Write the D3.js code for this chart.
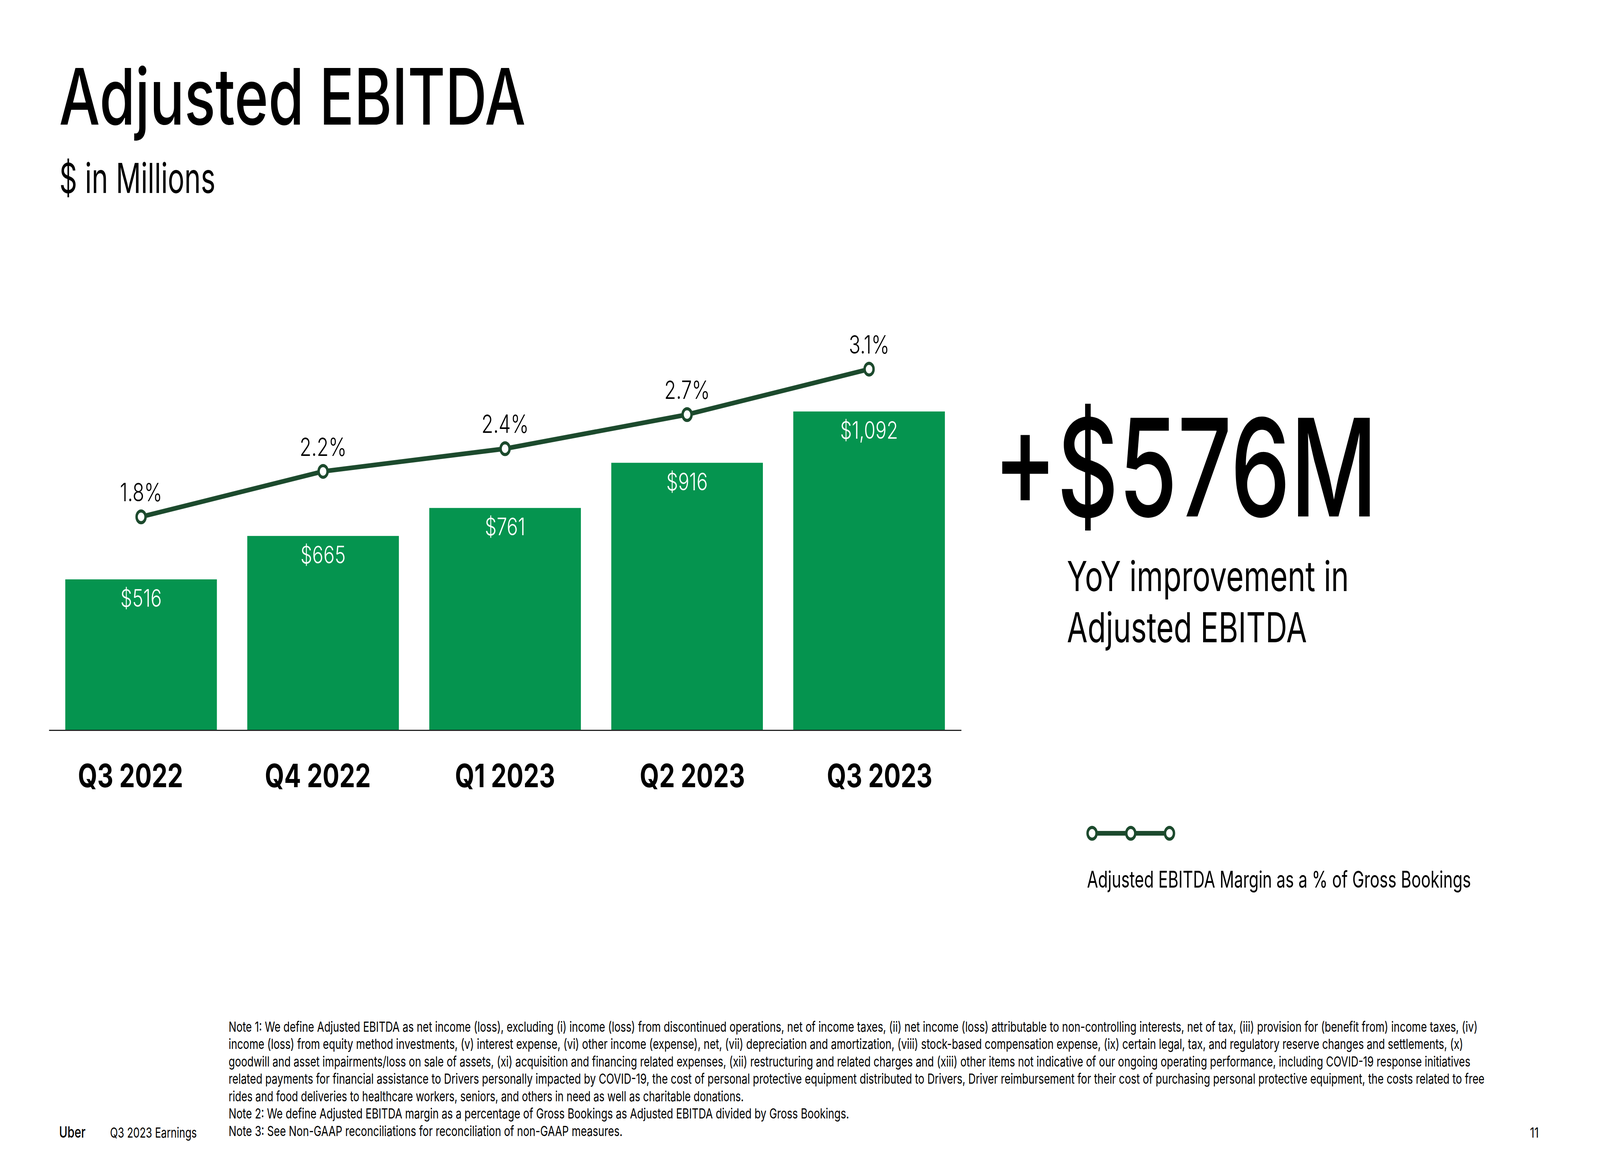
<!DOCTYPE html>
<html>
<head>
<meta charset="utf-8">
<script src="https://cdn.jsdelivr.net/npm/d3@7"></script>
<style>
  html, body { margin: 0; padding: 0; background: #fff; overflow: hidden; width: 100%; height: 100%; }
  svg { display: block; }
  text { font-family: Inter, "Noto Sans", sans-serif; fill: #000; }
</style>
</head>
<body>
<script>
// ---------- data ----------
const categories = ["Q3 2022", "Q4 2022", "Q1 2023", "Q2 2023", "Q3 2023"];
const ebitda = [516, 665, 761, 916, 1092];
const ebitdaLabels = ["$516", "$665", "$761", "$916", "$1,092"];
const margin = [1.8, 2.2, 2.4, 2.7, 3.1];
const marginLabels = ["1.8%", "2.2%", "2.4%", "2.7%", "3.1%"];
const titleText = "Adjusted EBITDA";
const subtitleText = "$ in Millions";
const headlineText = "+$576M";
const headlineSub = ["YoY improvement in", "Adjusted EBITDA"];
const legendText = "Adjusted EBITDA Margin as a % of Gross Bookings";
const footnotes = [
  "Note 1: We define Adjusted EBITDA as net income (loss), excluding (i) income (loss) from discontinued operations, net of income taxes, (ii) net income (loss) attributable to non-controlling interests, net of tax, (iii) provision for (benefit from) income taxes, (iv)",
  "income (loss) from equity method investments, (v) interest expense, (vi) other income (expense), net, (vii) depreciation and amortization, (viii) stock-based compensation expense, (ix) certain legal, tax, and regulatory reserve changes and settlements, (x)",
  "goodwill and asset impairments/loss on sale of assets, (xi) acquisition and financing related expenses, (xii) restructuring and related charges and (xiii) other items not indicative of our ongoing operating performance, including COVID-19 response initiatives",
  "related payments for financial assistance to Drivers personally impacted by COVID-19, the cost of personal protective equipment distributed to Drivers, Driver reimbursement for their cost of purchasing personal protective equipment, the costs related to free",
  "rides and food deliveries to healthcare workers, seniors, and others in need as well as charitable donations.",
  "Note 2: We define Adjusted EBITDA margin as a percentage of Gross Bookings as Adjusted EBITDA divided by Gross Bookings.",
  "Note 3: See Non-GAAP reconciliations for reconciliation of non-GAAP measures."
];
const footerLeft = "Uber";
const footerMid = "Q3 2023 Earnings";
const pageNum = "11";

// ---------- layout ----------
const W = 5333, H = 3000;
const BAR = "#05944F", LINE = "#1C4A2D";
const footWidths = [4163, 4115, 4139, 4186, 1717, 2068, 1313];

const svg = d3.select("body").append("svg")
  .attr("viewBox", `0 0 ${W} ${H}`)
  .attr("preserveAspectRatio", "none")
  .style("width", "100vw").style("height", "100vh");
svg.append("rect").attr("width", W).attr("height", H).attr("fill", "#fff");

function fit(sel, w) {
  sel.attr("textLength", w).attr("lengthAdjust", "spacingAndGlyphs");
}

// title
svg.append("text").attr("x", 197).attr("y", 319).attr("font-size", 200).attr("font-weight", 500)
  .text(titleText).call(fit, 1555);
svg.append("text").attr("x", 198).attr("y", 494).attr("font-size", 106).attr("font-weight", 400)
  .text(subtitleText).call(fit, 520);

// scales
const x = d3.scaleBand().domain(categories).range([163, 3204]).paddingInner(0.167).paddingOuter(0.09);
const y = d3.scaleLinear().domain([0, 1200]).range([1868, 1868 - 895.3]);
const y2 = d3.scaleLinear().domain([0, 4]).range([1846.4, 1846.4 - 1163.2]);
const xLab = d3.scalePoint().domain(categories).range([435, 2932]);

// bars
svg.append("g").selectAll("rect").data(categories).join("rect")
  .attr("x", d => x(d)).attr("width", x.bandwidth())
  .attr("y", (d, i) => y(ebitda[i])).attr("height", (d, i) => y(0) - y(ebitda[i]))
  .attr("fill", BAR);

// bar value labels
svg.append("g").selectAll("text").data(categories).join("text")
  .attr("x", d => x(d) + x.bandwidth() / 2)
  .attr("y", (d, i) => y(ebitda[i]) + 70)
  .attr("text-anchor", "middle").attr("font-size", 62).attr("font-weight", 300)
  .style("fill", "#fff")
  .text((d, i) => ebitdaLabels[i]);

// axis baseline
const axis = svg.append("g").attr("transform", `translate(0,${y(0) + 1})`)
  .call(d3.axisBottom(x).tickSize(0).tickSizeOuter(0).tickFormat(""));
axis.select(".domain").attr("stroke", "#222").attr("stroke-width", 3);

// category labels
svg.append("g").selectAll("text").data(categories).join("text")
  .attr("x", d => xLab(d)).attr("y", 2015)
  .attr("text-anchor", "middle").attr("font-size", 83).attr("font-weight", 700)
  .text(d => d);

// margin line
const cx = d => x(d) + x.bandwidth() / 2;
const line = d3.line().x((d, i) => cx(categories[i])).y(d => y2(d));
svg.append("path").datum(margin).attr("d", line)
  .attr("fill", "none").attr("stroke", LINE).attr("stroke-width", 12).attr("stroke-linejoin", "round");
svg.append("g").selectAll("circle").data(margin).join("circle")
  .attr("cx", (d, i) => cx(categories[i])).attr("cy", d => y2(d)).attr("r", 15)
  .attr("fill", "#fff").attr("stroke", LINE).attr("stroke-width", 8);
svg.append("g").selectAll("text").data(margin).join("text")
  .attr("x", (d, i) => cx(categories[i])).attr("y", d => y2(d) - 40)
  .attr("text-anchor", "middle").attr("font-size", 64).attr("font-weight", 300)
  .text((d, i) => marginLabels[i]);

// headline
svg.append("text").attr("x", 3311).attr("y", 1322).attr("font-size", 347).attr("font-weight", 500)
  .text(headlineText).call(fit, 1280);
svg.append("g").selectAll("text").data(headlineSub).join("text")
  .attr("x", 3556).attr("y", (d, i) => 1513 + i * 131)
  .attr("font-size", 106).attr("font-weight", 400)
  .text(d => d)
  .each(function (d, i) { d3.select(this).call(fit, i === 0 ? 940 : 800); });

// legend
const legX = d3.scalePoint().domain([0, 1, 2]).range([3640, 3898]);
svg.append("line").attr("x1", legX(0)).attr("x2", legX(2)).attr("y1", 2133).attr("y2", 2133)
  .attr("stroke", LINE).attr("stroke-width", 12);
svg.append("g").selectAll("circle").data([0, 1, 2]).join("circle")
  .attr("cx", d => legX(d)).attr("cy", 2133).attr("r", 15)
  .attr("fill", "#fff").attr("stroke", LINE).attr("stroke-width", 8);
svg.append("text").attr("x", 3623).attr("y", 2272).attr("font-size", 59).attr("font-weight", 400)
  .text(legendText).call(fit, 1280);

// footnotes
svg.append("g").selectAll("text").data(footnotes).join("text")
  .attr("x", 762).attr("y", (d, i) => 2641 + i * 44.5)
  .attr("font-size", 36).attr("font-weight", 400)
  .text(d => d)
  .each(function (d, i) { d3.select(this).call(fit, footWidths[i]); });

// footer
svg.append("text").attr("x", 197).attr("y", 2912).attr("font-size", 40).attr("font-weight", 500)
  .text(footerLeft).call(fit, 88);
svg.append("text").attr("x", 367).attr("y", 2912).attr("font-size", 36).attr("font-weight", 400)
  .text(footerMid).call(fit, 289);
svg.append("text").attr("x", 5129).attr("y", 2912).attr("font-size", 36).attr("font-weight", 400)
  .attr("text-anchor", "end").text(pageNum);
</script>
</body>
</html>
